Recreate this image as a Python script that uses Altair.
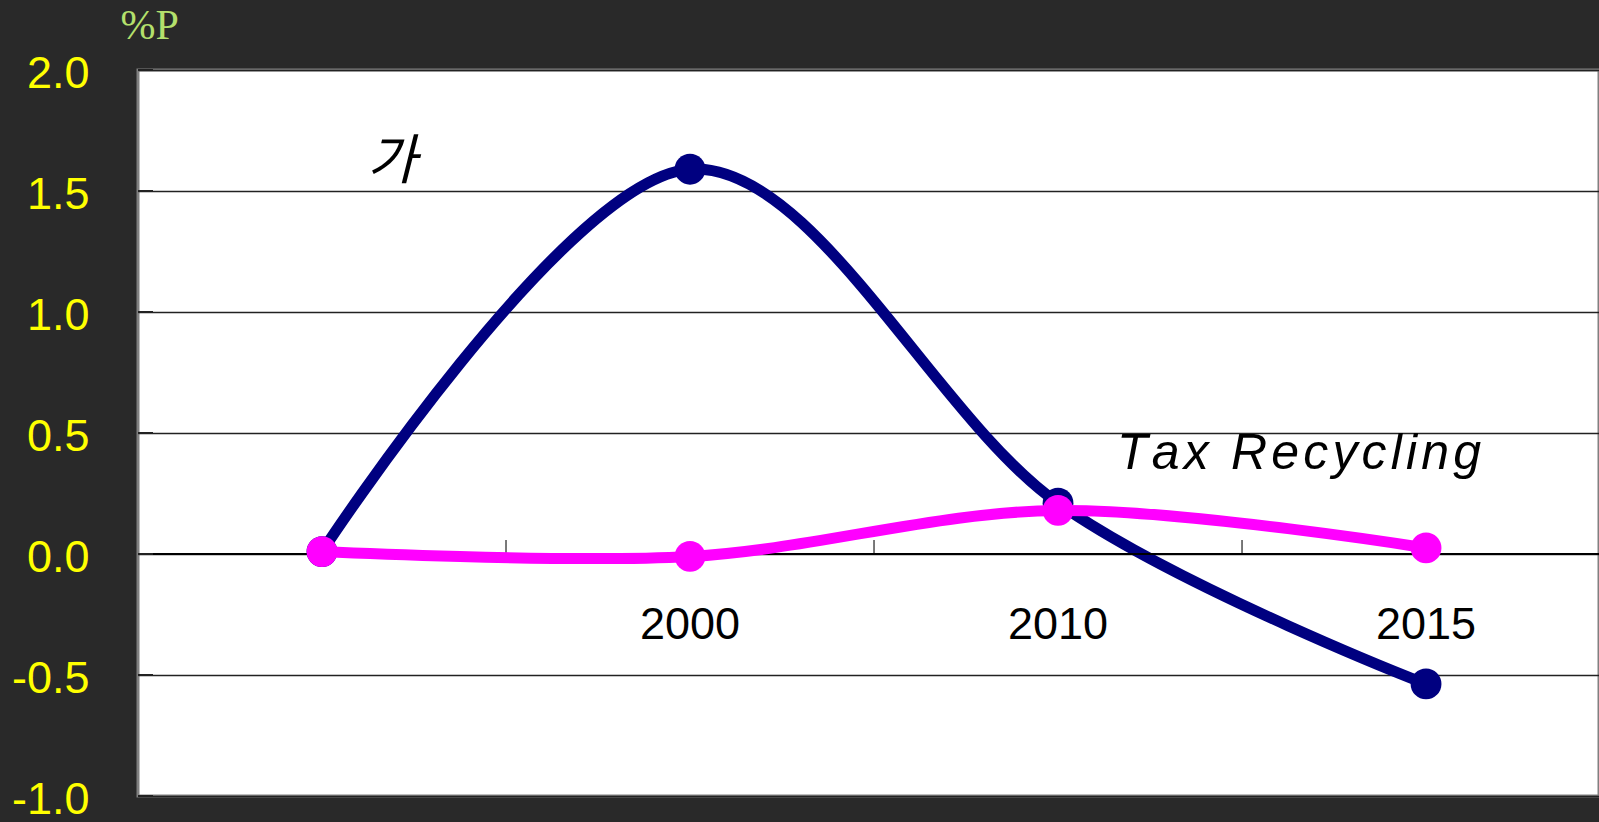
import altair as alt
import pandas as pd

# ---- data ----
x_index = [0, 1, 2, 3]
x_labels = ["", "2000", "2010", "2015"]
blue_values = [0.01, 1.59, 0.21, -0.537]      # 가 series
magenta_values = [0.01, -0.01, 0.18, 0.025]   # Tax Recycling series
y_ticks = [-1.0, -0.5, 0.0, 0.5, 1.0, 1.5, 2.0]
between_ticks = [0.5, 1.5, 2.5]

BLUE = "#000080"
MAGENTA = "#ff00ff"

HS = "\u200a"  # hair space used as letter spacing
tax_text = (HS + " " + HS).join(HS.join(w) for w in ["Tax", "Recycling"])

df = pd.DataFrame({
    "idx": x_index * 2,
    "value": blue_values + magenta_values,
    "series": ["blue"] * 4 + ["magenta"] * 4,
})
lab_df = pd.DataFrame({"idx": x_index, "label": x_labels})
tick_df = pd.DataFrame({"idx": between_ticks})
ygrid_df = pd.DataFrame({"value": y_ticks})
ko_df = pd.DataFrame({"idx": [0.19], "value": [1.615], "text": ["가"]})
en_df = pd.DataFrame({"idx": [2.655], "value": [0.35], "text": [tax_text]})

xs = alt.Scale(domain=[-0.5, 3.47], nice=False, zero=False)
ys = alt.Scale(domain=[-1.0, 2.0], nice=False, zero=False)

YAXIS = alt.Axis(
    values=y_ticks,
    labelExpr="datum.value < 0 ? '-' + format(-datum.value, '.1f') : format(datum.value, '.1f')",
    labelFont="Liberation Sans",
    labelFontSize=45,
    labelColor="#ffff00",
    labelPadding=49,
    labelOffset=3,
    ticks=False,
    domain=False,
    grid=True,
    gridColor="#222222",
    gridWidth=1.5,
    title="%P",
    titleAngle=0,
    titleX=-18,
    titleY=-32,
    titleAlign="left",
    titleBaseline="alphabetic",
    titleFont="Liberation Serif",
    titleFontSize=42,
    titleFontWeight="normal",
    titleColor="#b4e06c",
)

X = alt.X("idx:Q", scale=xs, axis=None)
Y = alt.Y("value:Q", scale=ys, axis=YAXIS)

base = alt.Chart(df)

zero_line = alt.Chart(ygrid_df).transform_filter("datum.value == 0").mark_rule(
    color="#000000", strokeWidth=2
).encode(y=Y)

inner_ticks = alt.Chart(ygrid_df).mark_rule(color="#222222", strokeWidth=2).encode(
    y=Y, x=alt.value(0), x2=alt.value(15)
)

x_ticks = alt.Chart(tick_df).mark_tick(
    color="#000000", thickness=1.5, size=14, yOffset=-7, orient="vertical"
).encode(x=X, y=alt.datum(0, scale=ys, axis=YAXIS))

x_text = alt.Chart(lab_df).mark_text(
    font="Liberation Sans", fontSize=45, color="#000000", dy=71, baseline="middle"
).encode(x=X, y=alt.datum(0, scale=ys, axis=YAXIS), text="label:N")

blue_line = base.transform_filter("datum.series == 'blue'").mark_line(
    color=BLUE, strokeWidth=11, interpolate="cardinal"
).encode(x=X, y=Y)
blue_pts = base.transform_filter("datum.series == 'blue'").mark_circle(
    color=BLUE, size=950, opacity=1
).encode(x=X, y=Y)
mag_line = base.transform_filter("datum.series == 'magenta'").mark_line(
    color=MAGENTA, strokeWidth=11, interpolate="cardinal"
).encode(x=X, y=Y)
mag_pts = base.transform_filter("datum.series == 'magenta'").mark_circle(
    color=MAGENTA, size=950, opacity=1
).encode(x=X, y=Y)

ann_ko = alt.Chart(ko_df).mark_text(
    font="Noto Sans CJK KR", fontSize=54, fontStyle="italic", color="#000000",
    baseline="middle", align="center"
).encode(x=X, y=Y, text="text:N")

ann_en = alt.Chart(en_df).mark_text(
    font="Liberation Sans", fontSize=50, fontStyle="italic", color="#000000",
    baseline="alphabetic", align="center"
).encode(x=X, y=Y, text="text:N")

chart = alt.layer(
    blue_line, zero_line, inner_ticks, x_ticks, x_text,
    blue_pts, mag_line, mag_pts, ann_ko, ann_en
).properties(
    width=1461,
    height=726,
    background="#292929",
    padding={"left": 138, "top": 70, "right": 0, "bottom": 26},
    autosize=alt.AutoSizeParams(type="none"),
).configure_view(
    fill="#ffffff", stroke="#808080", strokeWidth=3
)

chart.save("out.html", embed_options={"renderer": "svg", "actions": False})
